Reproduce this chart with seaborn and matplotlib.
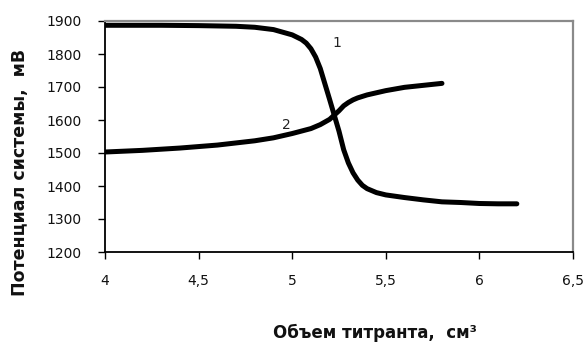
import matplotlib
matplotlib.use("Agg")
import matplotlib.pyplot as plt
from matplotlib.ticker import FuncFormatter, MultipleLocator
import pandas as pd
import seaborn as sns

# Titrant volume (cm3) and system potential (mV) for the two titration curves
volume_1 = [4.0, 4.3, 4.5, 4.7, 4.8, 4.9, 5.0, 5.05, 5.075, 5.1, 5.125, 5.15, 5.2,
            5.25, 5.275, 5.3, 5.325, 5.35, 5.375, 5.4, 5.45, 5.5, 5.6, 5.7, 5.8,
            5.9, 6.0, 6.1, 6.2]
potential_1 = [1887, 1887, 1886, 1884, 1881, 1874, 1858, 1844, 1833, 1816, 1791, 1756, 1662,
               1566, 1510, 1470, 1440, 1418, 1402, 1392, 1380, 1373, 1365, 1358, 1352,
               1350, 1347, 1346, 1346]

volume_2 = [4.0, 4.2, 4.4, 4.6, 4.8, 4.9, 5.0, 5.1, 5.15, 5.2, 5.25, 5.275, 5.3,
            5.325, 5.35, 5.4, 5.5, 5.6, 5.7, 5.8]
potential_2 = [1503, 1508, 1515, 1524, 1537, 1546, 1559, 1574, 1586, 1602, 1628, 1643, 1653,
               1661, 1667, 1676, 1689, 1699, 1705, 1711]

curve_labels = ["1", "2"]
label_pos = [(5.238, 1832), (4.97, 1585)]

df = pd.concat([
    pd.DataFrame({"V": volume_1, "E": potential_1, "curve": "1"}),
    pd.DataFrame({"V": volume_2, "E": potential_2, "curve": "2"}),
])

sns.set_style("white")
plt.rcParams["font.family"] = ["DejaVu Sans"]

fig = plt.figure(figsize=(5.85, 3.43), dpi=100)
ax = fig.add_axes([105 / 585, 1 - 252 / 343, 468 / 585, 231 / 343])

sns.lineplot(data=df, x="V", y="E", hue="curve", palette=["black", "black"],
             linewidth=3.6, legend=False, ax=ax, sort=False,
             solid_capstyle="round", solid_joinstyle="round")

for lab, (x, y) in zip(curve_labels, label_pos):
    ax.text(x, y, lab, fontsize=10, ha="center", va="center", color="#222222")

ax.set_xlim(4, 6.5)
ax.set_ylim(1200, 1900)
ax.xaxis.set_major_locator(MultipleLocator(0.5))
ax.yaxis.set_major_locator(MultipleLocator(100))
ax.xaxis.set_major_formatter(FuncFormatter(lambda v, p: f"{v:g}".replace(".", ",")))

ax.tick_params(axis="both", which="major", direction="out", length=5, width=1,
               color="black", labelsize=10, labelcolor="#111111")
ax.tick_params(axis="x", pad=11, bottom=True)
ax.tick_params(axis="y", pad=12, left=True)

for side in ("left", "bottom"):
    ax.spines[side].set_color("black")
    ax.spines[side].set_linewidth(1.3)
for side in ("top", "right"):
    ax.spines[side].set_color("#8a8a8a")
    ax.spines[side].set_linewidth(1.6)

ax.set_xlabel("")
ax.set_ylabel("")
fig.text(375 / 585, 1 - 333 / 343, "Объем титранта,  см³", fontsize=12,
         fontweight="bold", ha="center", va="center", color="#111111")
fig.text(20 / 585, 1 - 172 / 343, "Потенциал системы,  мВ", fontsize=12.5,
         fontweight="bold", ha="center", va="center", rotation=90, color="#111111")

fig.savefig("out.png", dpi=100)
